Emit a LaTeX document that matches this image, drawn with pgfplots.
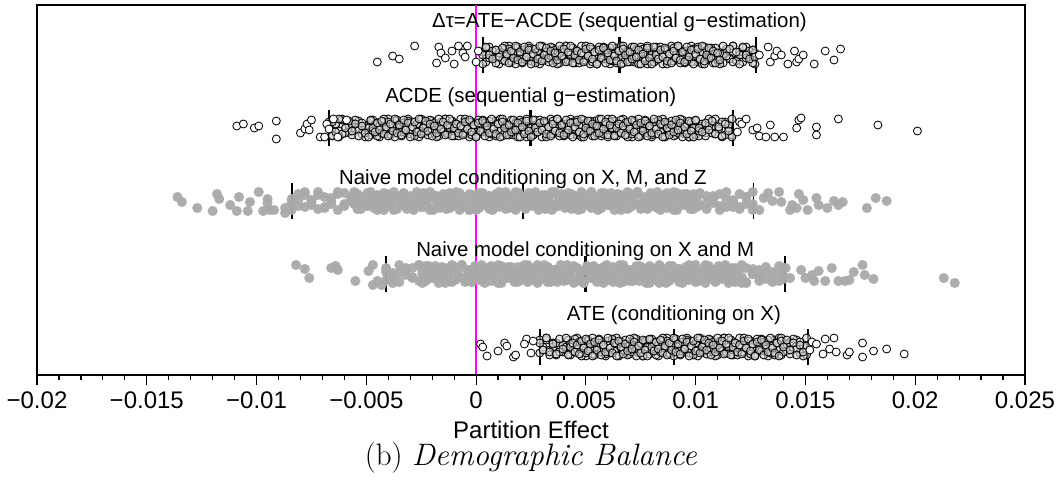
\documentclass[border=0pt]{standalone}
\usepackage{pgfplots}
\usepackage{pgfplotstable}
\pgfplotsset{compat=1.18}
\usepackage{fontspec}
\newfontfamily\arial{Liberation Sans}
\definecolor{ptgray}{RGB}{169,169,169}
\definecolor{cfill}{RGB}{214,214,214}
\definecolor{mag}{RGB}{255,0,255}
\pgfplotsset{
 circ/.style={only marks, mark=*, mark size=2pt, black, mark options={draw=black, line width=0.42pt, fill=cfill, fill opacity=0.6}},
 circo/.style={only marks, mark=*, mark size=2pt, black, mark options={draw=black, line width=0.42pt, fill=white}},
 gdot/.style={only marks, mark=*, mark size=2.45pt, ptgray, mark options={draw=ptgray, fill=ptgray, line width=0.1pt, opacity=0.95}},
 medbar/.style={black, line width=1.3pt},
 qbar/.style={black, line width=0.8pt},
}
% x in units of 0.0001; columns a,b,c: vertical jitter of three points at that x
\pgfplotstableread{
x a b c
3 3 0 -9
4.5 -7 7 8
6 8 -3 0
7.5 -2 4 -4
9 5 -8 5
10.5 -9 2 -2
12 1 -5 7
13 6 9 -6
14 -4 -1 1
15 9 6 -8
16 -6 -7 4
17 0 3 -3
18 7 -9 9
19 -3 8 -5
20 4 0 3
21 -8 -4 -7
22 2 5 8
23 -5 -2 -2
24 9 7 5
25 -1 -6 -9
26 6 1 1
27 -7 -8 6
28 3 4 -4
29 -9 -3 9
30 8 9 -6
31 0 -5 0
32 -4 3 7
33 5 -7 -3
34 -2 8 4
35 7 -2 -8
36 -6 5 2
37 1 -9 -5
38 -8 1 9
39 4 6 -1
40 -3 -4 6
41 9 9 -7
42 -5 -6 3
43 -3 0 9
44 7 7 -8
45 -8 -3 0
46 2 4 4
47 -5 -8 -5
48 9 2 2
49 -1 -5 -7
50 -6 9 6
51 4 -1 -1
52 -9 6 8
53 6 -7 -4
54 0 3 3
55 -7 -9 -9
56 3 8 5
57 -4 0 -3
58 8 -4 7
59 -2 5 -8
60 5 -2 2
61 -9 7 -5
62 1 -6 9
63 -6 1 -1
64 7 -8 -6
65 -3 4 4
66 9 -3 -9
67 -8 9 6
68 0 -5 0
69 4 3 -7
70 -5 -7 3
71 2 8 -4
72 -7 -2 8
73 6 5 -2
74 -1 -9 5
75 8 1 -9
76 -4 6 1
77 3 -4 -6
78 -9 9 7
79 5 -6 -3
80 3 0 -9
81 -7 -7 8
82 8 3 0
83 -2 -4 -4
84 5 8 5
85 -9 -2 -2
86 1 5 7
87 6 -9 -6
88 -4 1 1
89 9 -6 -8
90 -6 7 4
91 0 -3 -3
92 7 9 9
93 -3 -8 -5
94 4 0 3
95 -8 4 -7
96 2 -5 8
97 -5 2 -2
98 9 -7 5
99 -1 6 -9
100 6 -1 1
101 -7 8 6
102 3 -4 -4
103 -9 3 9
104 8 -9 -6
105 0 5 0
106 -4 -3 7
107 5 7 -3
108 -2 -8 4
109 7 2 -8
110 -6 -5 2
111 1 -9 -5
112.5 -8 1 9
114 4 6 -1
115.5 -3 -4 6
117 9 9 -7
118.5 -5 -6 3
120 3 0 -9
121.5 -7 7 8
123 8 -3 0
124.5 -2 4 -4
126 5 -8 5
127 -9 2 -2
}\tA
\pgfplotstableread{
x a b c
-67 6 1 1
-65.5 -7 -8 6
-64 3 4 -4
-62.5 -9 -3 9
-61 8 9 -6
-59.5 0 -5 0
-58 -4 3 7
-56.5 5 -7 -3
-55 -2 8 4
-53.5 7 -2 -8
-52 -6 5 2
-50.5 1 -9 -5
-49 3 0 -9
-48 -7 7 8
-47 8 -3 0
-46 -2 4 -4
-45 5 -8 5
-44 -9 2 -2
-43 1 -5 7
-42 6 9 -6
-41 -4 -1 1
-40 9 6 -8
-39 -6 -7 4
-38 0 3 -3
-37 7 -9 9
-36 -3 8 -5
-35 4 0 3
-34 -8 -4 -7
-33 2 5 8
-32 -5 -2 -2
-31 9 7 5
-30 -1 -6 -9
-29 6 1 1
-28 -7 -8 6
-27 3 4 -4
-26 -9 -3 9
-25 8 9 -6
-24 0 -5 0
-23 -4 3 7
-22 5 -7 -3
-21 -2 8 4
-20 7 -2 -8
-19 -6 5 2
-18 1 -9 -5
-17 -8 1 9
-16 4 6 -1
-15 -3 -4 6
-14 9 9 -7
-13 -5 -6 3
-12 -3 0 9
-11 7 7 -8
-10 -8 -3 0
-9 2 4 4
-8 -5 -8 -5
-7 9 2 2
-6 -1 -5 -7
-5 -6 9 6
-4 4 -1 -1
-3 -9 6 8
-2 6 -7 -4
-1 0 3 3
0 -7 -9 -9
1 3 8 5
2 -4 0 -3
3 8 -4 7
4 -2 5 -8
5 5 -2 2
6 -9 7 -5
7 1 -6 9
8 -6 1 -1
9 7 -8 -6
10 -3 4 4
11 9 -3 -9
12 -8 9 6
13 0 -5 0
14 4 3 -7
15 -5 -7 3
16 2 8 -4
17 -7 -2 8
18 6 5 -2
19 -1 -9 5
20 8 1 -9
21 -4 6 1
22 3 -4 -6
23 -9 9 7
24 5 -6 -3
25 3 0 -9
26 -7 -7 8
27 8 3 0
28 -2 -4 -4
29 5 8 5
30 -9 -2 -2
31 1 5 7
32 6 -9 -6
33 -4 1 1
34 9 -6 -8
35 -6 7 4
36 0 -3 -3
37 7 9 9
38 -3 -8 -5
39 4 0 3
40 -8 4 -7
41 2 -5 8
42 -5 2 -2
43 9 -7 5
44 -1 6 -9
45 6 -1 1
46 -7 8 6
47 3 -4 -4
48 -9 3 9
49 8 -9 -6
50 0 5 0
51 -4 -3 7
52 5 7 -3
53 -2 -8 4
54 7 2 -8
55 -6 -5 2
56 1 9 -5
57 -8 -1 9
58 4 -6 -1
59 -3 4 6
60 9 -9 -7
61 -5 6 3
62 -3 0 9
63 7 -7 -8
64 -8 3 0
65 2 -4 4
66 -5 8 -5
67 9 -2 2
68 -1 5 -7
69 -6 -9 6
70 4 1 -1
71 -9 -6 8
72 6 7 -4
73 0 -3 3
74 -7 9 -9
75 3 -8 5
76 -4 0 -3
77 8 4 7
78 -2 -5 -8
79 5 2 2
80 -9 -7 -5
81 1 6 9
82 -6 -1 -1
83 7 8 -6
84 -3 -4 4
85 9 3 -9
86 -8 -9 6
87 0 5 0
88 4 -3 -7
89 -5 7 3
90 2 -8 -4
91 -7 2 8
92 6 -5 -2
93 -1 9 5
94 8 -1 -9
95 -4 -6 1
96 3 4 -6
97 -9 -9 7
98 5 6 -3
99 3 0 -9
100 -7 7 8
101.5 -8 -3 0
103 2 4 -4
104.5 -5 -8 5
106 9 2 -2
107.5 -1 -5 7
109 -6 9 -6
110.5 4 -1 1
112 -9 6 -8
113.5 6 -7 4
115 0 3 -3
116.5 -7 -9 9
}\tB
\pgfplotstableread{
x a b c
-84 -9 2 -2
-81 1 -5 7
-78 6 9 -6
-75 -4 -1 1
-72 9 6 -8
-69 -6 -7 4
-66 0 3 -3
-63 7 -9 9
-60 -3 8 -5
-57 4 0 3
-55.5 -3 0 9
-54 7 -7 -8
-52.5 -8 3 0
-51 2 -4 4
-49.5 -5 8 -5
-48 9 -2 2
-46.5 -1 5 -7
-45 -6 -9 6
-43.5 4 1 -1
-42 -9 -6 8
-40.5 6 7 -4
-39 0 -3 3
-37.5 -7 9 -9
-36 3 -8 5
-34.5 -4 0 -3
-33 8 4 7
-31.5 -2 -5 -8
-30 5 2 2
-28.5 -9 -7 -5
-27 1 6 9
-25.5 -6 -1 -1
-24 7 8 -6
-22.5 -3 -4 4
-21 9 3 -9
-19.5 -8 -9 6
-18 0 5 0
-16.5 4 -3 -7
-15 -5 7 3
-13.5 2 -8 -4
-12 -7 2 8
-10.5 6 -5 -2
-9 -1 9 5
-7.5 8 -1 -9
-6 -4 -6 1
-4.5 3 4 -6
-3 -9 -9 7
-1.5 5 6 -3
0 3 0 -9
1.5 -7 7 8
3 8 -3 0
4.5 -2 4 -4
6 5 -8 5
7.5 -9 2 -2
9 1 -5 7
10.5 6 9 -6
12 -4 -1 1
13.5 9 6 -8
15 -6 -7 4
16.5 0 3 -3
18 7 -9 9
19.5 -3 8 -5
21 4 0 3
22.5 -8 -4 -7
24 2 5 8
25.5 -5 -2 -2
27 9 7 5
28.5 -1 -6 -9
30 6 1 1
31.5 -7 -8 6
33 3 4 -4
34.5 -9 -3 9
36 8 9 -6
37.5 0 -5 0
39 -4 3 7
40.5 5 -7 -3
42 -2 8 4
43.5 7 -2 -8
45 -6 5 2
46.5 1 -9 -5
48 -8 1 9
49.5 4 6 -1
51 -3 -4 6
52.5 9 9 -7
54 -5 -6 3
55.5 3 0 -9
57 -7 -7 8
58.5 8 3 0
60 -2 -4 -4
61.5 5 8 5
63 -9 -2 -2
64.5 1 5 7
66 6 -9 -6
67.5 -4 1 1
69 9 -6 -8
70.5 -6 7 4
72 0 -3 -3
73.5 7 9 9
75 -3 -8 -5
76.5 4 0 3
78 -8 4 -7
79.5 2 -5 8
81 -5 2 -2
82.5 9 -7 5
84 -1 6 -9
85.5 6 -1 1
87 -7 8 6
88.5 3 -4 -4
90 -9 3 9
91.5 8 -9 -6
93 0 5 0
94.5 -4 -3 7
96 5 7 -3
97.5 -2 -8 4
99 7 2 -8
100.5 -6 -5 2
102 8 -4 7
105 -2 5 -8
108 5 -2 2
111 -9 7 -5
114 1 -6 9
117 -6 1 -1
120 7 -8 -6
123 -3 4 4
126 9 -3 -9
}\tC
\pgfplotstableread{
x a b c
-41 -6 5 2
-38 1 -9 -5
-35 -8 1 9
-32 4 6 -1
-29 -3 -4 6
-26 9 9 -7
-24.5 3 0 -9
-23 -7 -7 8
-21.5 8 3 0
-20 -2 -4 -4
-18.5 5 8 5
-17 -9 -2 -2
-15.5 1 5 7
-14 6 -9 -6
-12.5 -4 1 1
-11 9 -6 -8
-9.5 -6 7 4
-8 0 -3 -3
-6.5 7 9 9
-5 -3 -8 -5
-3.5 4 0 3
-2 -8 4 -7
-0.5 2 -5 8
1 -5 2 -2
2.5 9 -7 5
4 -1 6 -9
5.5 6 -1 1
7 -7 8 6
8.5 3 -4 -4
10 -9 3 9
11.5 8 -9 -6
13 0 5 0
14.5 -4 -3 7
16 5 7 -3
17.5 -2 -8 4
19 7 2 -8
20.5 -6 -5 2
22 1 9 -5
23.5 -8 -1 9
25 4 -6 -1
26.5 -3 4 6
28 9 -9 -7
29.5 -5 6 3
31 -3 0 9
32.5 7 7 -8
34 -8 -3 0
35.5 2 4 4
37 -5 -8 -5
38.5 9 2 2
40 -1 -5 -7
41.5 -6 9 6
43 4 -1 -1
44.5 -9 6 8
46 6 -7 -4
47.5 0 3 3
49 -7 -9 -9
50.5 3 8 5
52 -4 0 -3
53.5 8 -4 7
55 -2 5 -8
56.5 5 -2 2
58 -9 7 -5
59.5 1 -6 9
61 -6 1 -1
62.5 7 -8 -6
64 -3 4 4
65.5 9 -3 -9
67 -8 9 6
68.5 0 -5 0
70 4 3 -7
71.5 -5 -7 3
73 2 8 -4
74.5 -7 -2 8
76 6 5 -2
77.5 -1 -9 5
79 8 1 -9
80.5 -4 6 1
82 3 -4 -6
83.5 -9 9 7
85 5 -6 -3
86.5 3 0 -9
88 -7 7 8
89.5 8 -3 0
91 -2 4 -4
92.5 5 -8 5
94 -9 2 -2
95.5 1 -5 7
97 6 9 -6
98.5 -4 -1 1
100 9 6 -8
101.5 -6 -7 4
103 0 3 -3
104.5 7 -9 9
106 -3 8 -5
107.5 4 0 3
109 -8 -4 -7
110.5 2 5 8
112 -5 -2 -2
113.5 9 7 5
115 -1 -6 -9
116.5 6 1 1
118 -7 -8 6
119.5 3 4 -4
121 -9 -3 9
123 -8 -9 6
126 0 5 0
129 4 -3 -7
132 -5 7 3
135 2 -8 -4
138 -7 2 8
140 6 -5 -2
}\tD
\pgfplotstableread{
x a b c
29 -6 7 4
30.5 0 -3 -3
32 7 9 9
33.5 -3 -8 -5
35 4 0 3
36.5 -8 4 -7
38 2 -5 8
39.5 -5 2 -2
41 -3 0 9
42 7 -7 -8
43 -8 3 0
44 2 -4 4
45 -5 8 -5
46 9 -2 2
47 -1 5 -7
48 -6 -9 6
49 4 1 -1
50 -9 -6 8
51 6 7 -4
52 0 -3 3
53 -7 9 -9
54 3 -8 5
55 -4 0 -3
56 8 4 7
57 -2 -5 -8
58 5 2 2
59 -9 -7 -5
60 1 6 9
61 -6 -1 -1
62 7 8 -6
63 -3 -4 4
64 9 3 -9
65 -8 -9 6
66 0 5 0
67 4 -3 -7
68 -5 7 3
69 2 -8 -4
70 -7 2 8
71 6 -5 -2
72 -1 9 5
73 8 -1 -9
74 -4 -6 1
75 3 4 -6
76 -9 -9 7
77 5 6 -3
78 3 0 -9
79 -7 7 8
80 8 -3 0
81 -2 4 -4
82 5 -8 5
83 -9 2 -2
84 1 -5 7
85 6 9 -6
86 -4 -1 1
87 9 6 -8
88 -6 -7 4
89 0 3 -3
90 7 -9 9
91 -3 8 -5
92 4 0 3
93 -8 -4 -7
94 2 5 8
95 -5 -2 -2
96 9 7 5
97 -1 -6 -9
98 6 1 1
99 -7 -8 6
100 3 4 -4
101 -9 -3 9
102 8 9 -6
103 0 -5 0
104 -4 3 7
105 5 -7 -3
106 -2 8 4
107 7 -2 -8
108 -6 5 2
109 1 -9 -5
110 -8 1 9
111 4 6 -1
112 -3 -4 6
113 9 9 -7
114 -5 -6 3
115 -3 0 9
116 7 7 -8
117 -8 -3 0
118 2 4 4
119 -5 -8 -5
120 9 2 2
121 -1 -5 -7
122 -6 9 6
123 4 -1 -1
124 -9 6 8
125 6 -7 -4
126 0 3 3
127 -7 -9 -9
128 3 8 5
129 -4 0 -3
130 8 -4 7
131 -2 5 -8
132 5 -2 2
133 -9 7 -5
134 1 -6 9
135 -6 1 -1
136 7 -8 -6
137 -3 4 4
138 9 -3 -9
139 -8 9 6
140 0 -5 0
141.5 -4 3 7
143 5 -7 -3
144.5 -2 8 4
146 7 -2 -8
147.5 -6 5 2
149 1 -9 -5
150.5 -8 1 9
}\tE
\begin{document}
\begin{tikzpicture}
\useasboundingbox (-18.5pt,-56.5pt) rectangle (510.5pt,187.5pt);
\begin{axis}[
 at={(0pt,0pt)}, anchor=south west,
 scale only axis, width=494pt, height=185pt,
 xmin=-200, xmax=250, ymin=-28, ymax=342,
 clip=false,
 ytick=\empty,
 xtick={-200,-150,...,250},
 xticklabels={−0.02,−0.015,−0.01,−0.005,0,0.005,0.01,0.015,0.02,0.025},
 minor x tick num=4,
 xtick pos=bottom, tick align=outside,
 major tick length=5pt, minor tick length=2.5pt,
 every tick/.style={black, line width=0.6pt},
 axis line style={line width=0.6pt},
 xticklabel style={font=\arial\fontsize{12}{14}\selectfont},
]
% Row 1 (Delta tau), centre 292
\addplot[circ] table[x=x, y expr={292+(\thisrow{a})}] {\tA};
\addplot[circ] table[x=x, y expr={292+(\thisrow{b})}] {\tA};
\addplot[circ] table[x=x, y expr={292+(\thisrow{c})}] {\tA};
\addplot[circo] coordinates {(-45,285)(-38,291)(-35,288)(-28,301)(-18,284)(-17,300)(-16,294)(-14,289)(-11,296)(-10,283)(-8,301)(-6,294)(-5,290)(-4,301)(0,285)(1,296)
(129,292)(133,300)(134,285)(136,291)(137,296)(139,292)(142,283)(145,296)(146,285)(147,288)(149,292)(154,283)(159,296)(163,287)(166,298)};
% Row 2 (ACDE), centre 219
\addplot[circ] table[x=x, y expr={219+(\thisrow{a})}] {\tB};
\addplot[circ] table[x=x, y expr={219+(\thisrow{b})}] {\tB};
\addplot[circ] table[x=x, y expr={219+(\thisrow{c})}] {\tB};
\addplot[circo] coordinates {(-109,221)(-106,223)(-101,219)(-99,221)(-91,226)(-91,208)(-80,214)(-78,218)(-77,223)(-75,227)(-76,217)(-71,210)(-69,210)(-68,223)(-67,218)(-65,228)(-63,210)(-59,227)
(119,215)(120,225)(121,223)(123,228)(126,217)(128,219)(129,211)(132,210)(134,222)(136,210)(140,210)(146,219)(147,227)(148,229)(155,220)(155,212)(165,228)(183,222)(201,216)};
% Row 5 (ATE), centre 0
\addplot[circ] table[x=x, y expr={0+(\thisrow{a})}] {\tE};
\addplot[circ] table[x=x, y expr={0+(\thisrow{b})}] {\tE};
\addplot[circ] table[x=x, y expr={0+(\thisrow{c})}] {\tE};
\addplot[circo] coordinates {(2,3)(3,0)(5,-9)(10,-4)(13,4)(14,1)(17,-10)(18,-8)(23,8)(22,3)(25,-6)(26,6)
(152,-3)(153,5)(155,3)(158,-7)(159,8)(161,-2)(163,9)(164,-5)(169,-8)(170,-5)(176,4)(176,-10)(181,-4)(187,-2)(195,-7)};
% Row 3 (naive X, M, Z), centre 146
\addplot[gdot] table[x=x, y expr={146+(\thisrow{a})}] {\tC};
\addplot[gdot] table[x=x, y expr={146+(\thisrow{b})}] {\tC};
\addplot[gdot] table[x=x, y expr={146+(\thisrow{c})}] {\tC};
\addplot[gdot] coordinates {(-136,150)(-134,145)(-127,139)(-120,136)(-118,153)(-117,148)(-112,142)(-108,150)(-109,136)(-104,136)(-103,145)(-99,155)(-95,148)(-95,144)(-97,136)(-94,137)(-92,137)(-87,139)(-87,134)
(129,137)(131,149)(133,154)(135,146)(138,155)(139,145)(143,137)(144,142)(146,139)(147,153)(149,147)(151,137)(155,149)(156,142)(160,139)(163,146)(165,142)(167,145)(178,139)(182,149)(187,146)};
% Row 4 (naive X and M), centre 73
\addplot[gdot] table[x=x, y expr={73+(\thisrow{a})}] {\tD};
\addplot[gdot] table[x=x, y expr={73+(\thisrow{b})}] {\tD};
\addplot[gdot] table[x=x, y expr={73+(\thisrow{c})}] {\tD};
\addplot[gdot] coordinates {(-82,82)(-78,78)(-76,69)(-66,79)(-64,81)(-63,77)(-55,66)(-49,76)(-47,82)(-47,62)(-45,66)(-41,79)(-43,62)
(141,79)(143,69)(148,77)(150,69)(153,72)(154,66)(156,76)(159,66)(162,79)(165,66)(168,66)(170,67)(172,75)(176,82)(177,72)(181,68)(213,69)(218,64)};
% quantile and median bars
\addplot[qbar] coordinates {(3.1,274)(3.1,310)};
\addplot[medbar] coordinates {(65.3,274)(65.3,310)};
\addplot[qbar] coordinates {(127.5,274)(127.5,310)};
\addplot[qbar] coordinates {(-67,201)(-67,237)};
\addplot[medbar] coordinates {(24.9,201)(24.9,237)};
\addplot[qbar] coordinates {(116.9,201)(116.9,237)};
\addplot[qbar] coordinates {(-83.9,128)(-83.9,164)};
\addplot[medbar] coordinates {(21.3,128)(21.3,164)};
\addplot[qbar] coordinates {(126.3,128)(126.3,164)};
\addplot[qbar] coordinates {(-41.1,55)(-41.1,91)};
\addplot[medbar] coordinates {(49.7,55)(49.7,91)};
\addplot[qbar] coordinates {(140.6,55)(140.6,91)};
\addplot[qbar] coordinates {(29.1,-18)(29.1,18)};
\addplot[medbar] coordinates {(90.1,-18)(90.1,18)};
\addplot[qbar] coordinates {(151.1,-18)(151.1,18)};
% zero line
\addplot[mag, line width=0.7pt] coordinates {(0,-28)(0,342)};
% bottom axis line
\addplot[black, line width=1.2pt] coordinates {(-200,-28)(250,-28)};
% labels
\node[font=\arial\fontsize{10.2}{12}\selectfont] at (axis cs:65.3,325) {Δτ=ATE−ACDE (sequential g−estimation)};
\node[font=\arial\fontsize{10.2}{12}\selectfont] at (axis cs:24.9,250) {ACDE (sequential g−estimation)};
\node[font=\arial\fontsize{10.2}{12}\selectfont] at (axis cs:21.3,168) {Naive model conditioning on X, M, and Z};
\node[font=\arial\fontsize{10.2}{12}\selectfont] at (axis cs:49.7,96) {Naive model conditioning on X and M};
\node[font=\arial\fontsize{10.2}{12}\selectfont] at (axis cs:90.1,32) {ATE (conditioning on X)};
\end{axis}
\node[font=\arial\fontsize{12}{14}\selectfont] at (247pt,-27.5pt) {Partition Effect};
\node[font=\fontsize{15.5}{18}\selectfont] at (247pt,-41.5pt) {(b) \textit{Demographic Balance}};
\end{tikzpicture}
\end{document}
